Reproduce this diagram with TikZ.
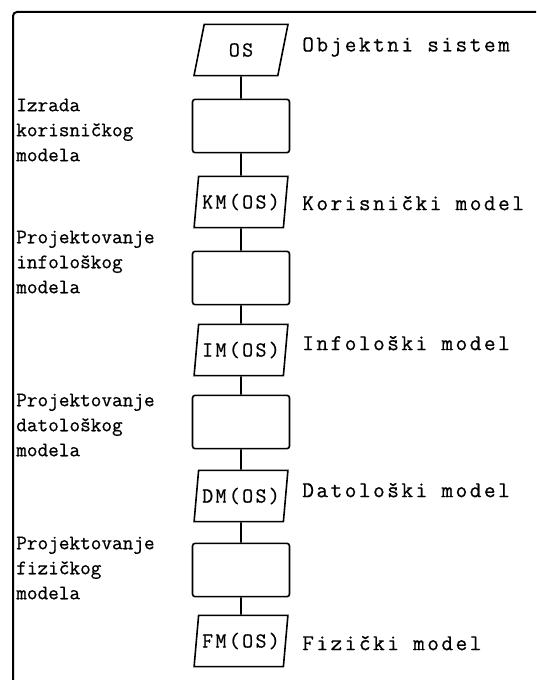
\documentclass[tikz,border=0pt]{standalone}
\usepackage{fontspec}
\setmainfont[FakeBold=0.6]{Latin Modern Mono}
\newfontfamily\lblfont[LetterSpace=11,FakeBold=0.6]{Latin Modern Mono}
\usetikzlibrary{shapes.geometric}
\begin{document}
\begin{tikzpicture}[x=0.75pt,y=-0.75pt,
  model/.style={trapezium, trapezium left angle=76, trapezium right angle=104,
    trapezium stretches=true, draw, line width=1.2pt, inner sep=0pt,
    minimum width=70.5pt, minimum height=38.5pt,
    font=\lblfont\fontsize{16}{18}\selectfont},
  stepbox/.style={draw, line width=1.2pt, rounded corners=2pt,
    minimum width=72.75pt, minimum height=40pt},
  desc/.style={anchor=west, inner sep=0pt, font=\lblfont\fontsize{17}{20}\selectfont},
  act/.style={anchor=west, align=left, inner sep=0pt,
    font=\fontsize{15.5}{18.75}\selectfont},
  link/.style={line width=1.2pt}]
\useasboundingbox (0,0) rectangle (536,680);

% frame
\draw[line width=1.5pt, rounded corners=3pt] (13,680) -- (13,12) -- (536,12);

% models and design steps
\node[model]   (os) at (241,50)  {OS};
\node[stepbox] (s1) at (241,126) {};
\node[model]   (km) at (241,202) {KM(OS)};
\node[stepbox] (s2) at (241,278) {};
\node[model]   (im) at (241,350) {IM(OS)};
\node[stepbox] (s3) at (241,422) {};
\node[model]   (dm) at (241,496) {DM(OS)};
\node[stepbox] (s4) at (241,570) {};
\node[model]   (fm) at (241,641) {FM(OS)};

\draw[link] (os.south) -- (s1.north);
\draw[link] (s1.south) -- (km.north);
\draw[link] (km.south) -- (s2.north);
\draw[link] (s2.south) -- (im.north);
\draw[link] (im.south) -- (s3.north);
\draw[link] (s3.south) -- (dm.north);
\draw[link] (dm.south) -- (s4.north);
\draw[link] (s4.south) -- (fm.north);

% model names
\node[desc] (n1) at (302,47)  {Objektni sistem};
\node[desc] (n2) at (302,203) {Korisnički model};
\node[desc] (n3) at (302,343) {Infološki model};
\node[desc] (n4) at (302,490) {Datološki model};
\node[desc] (n5) at (302,643) {Fizički model};

% activities
\node[act] (a1) at (16,130) {Izrada\\korisničkog\\modela};
\node[act] (a2) at (16,262) {Projektovanje\\infološkog\\modela};
\node[act] (a3) at (16,425) {Projektovanje\\datološkog\\modela};
\node[act] (a4) at (16,568) {Projektovanje\\fizičkog\\modela};
\end{tikzpicture}
\end{document}
